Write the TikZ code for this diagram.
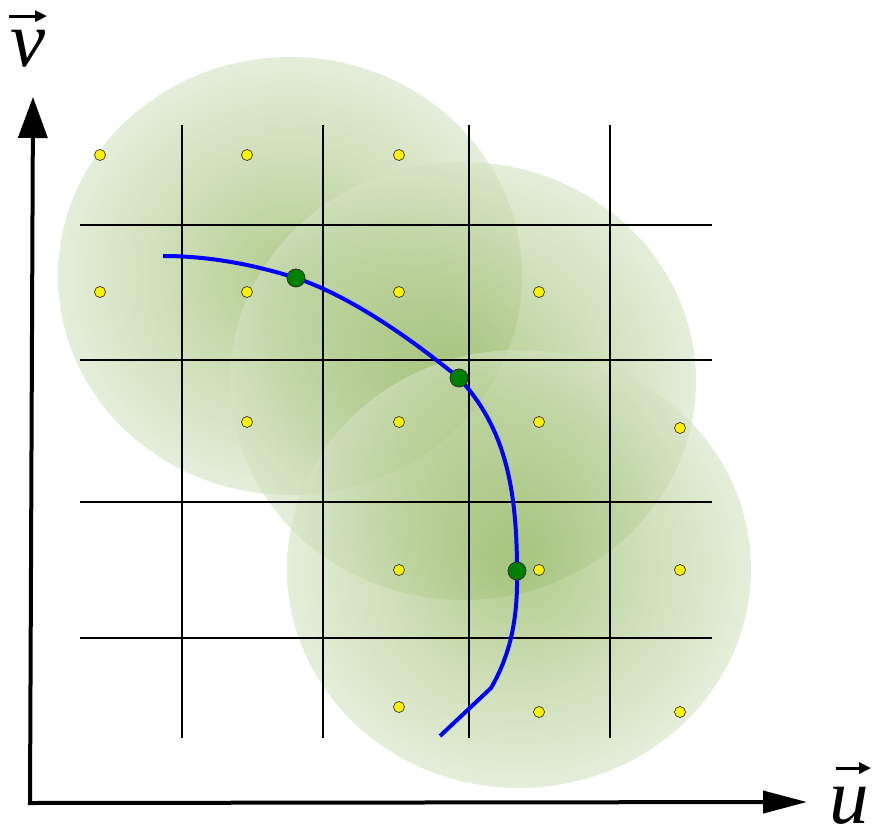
\documentclass[tikz,border=0pt]{standalone}
\usepackage{fontspec}
\setmainfont{Liberation Serif}
\usetikzlibrary{arrows.meta}

\definecolor{blobcenter}{RGB}{127,172,67}
\definecolor{blobedge}{RGB}{212,226,194}
\definecolor{dotgreen}{RGB}{0,128,0}
\pgfdeclareradialshading{blob}{\pgfpoint{0bp}{0bp}}{color(0bp)=(blobcenter); color(25bp)=(blobedge); color(50bp)=(blobedge)}

\begin{document}
\begin{tikzpicture}[
        x=0.02cm, y=-0.02cm,
        axis/.style={line width=0.08cm},
        gridline/.style={line width=0.6pt},
        blobfill/.style={shading=blob,opacity=0.6},
        curve/.style={draw=blue,line width=0.08cm},
        ydot/.style={circle,draw=black!80,fill=yellow,line width=0.4pt,inner sep=0pt,minimum size=0.22cm},
        gdot/.style={circle,draw=black!80,fill=dotgreen,line width=0.5pt,inner sep=0pt,minimum size=0.36cm},
        lab/.style={font=\fontsize{45}{45}\selectfont\itshape,inner sep=0pt},
        vecarr/.style={line width=0.06cm,-{Triangle[length=0.24cm,width=0.22cm]}}
    ]
    \useasboundingbox (0,0) rectangle (874,830);

    % search regions
    \shade[blobfill] (290,276) ellipse [x radius=232, y radius=219];
    \shade[blobfill] (463,381) ellipse [x radius=233, y radius=219];
    \shade[blobfill] (519,569) ellipse [x radius=232, y radius=219];

    % grid
    \foreach \gx in {182,323,469,610}
        \draw[gridline] (\gx,125) -- (\gx,738);
    \foreach \gy in {225,360,502,638}
        \draw[gridline] (80,\gy) -- (712,\gy);

    % axes
    \coordinate (origin) at (30,803);
    \coordinate (vtip) at (33,97);
    \coordinate (utip) at (807,802);
    \draw[axis,{Triangle[length=0.82cm,width=0.58cm]}-{Triangle[length=0.88cm,width=0.44cm]}]
        (vtip) -- (origin) -- (utip);

    \node[lab] (vlab) at (28,49) {v};
    \node[lab] (ulab) at (849,806) {u};
    \draw[vecarr] ([shift={(-19,-14)}]vlab.north) -- ([shift={(19,-14)}]vlab.north);
    \draw[vecarr] ([shift={(-13,-19)}]ulab.north) -- ([shift={(22,-19)}]ulab.north);

    % trajectory
    \coordinate (c0) at (163,256);
    \coordinate (p1) at (296,278);
    \coordinate (p2) at (459,378);
    \coordinate (p3) at (517,571);
    \coordinate (c4) at (491,688);
    \coordinate (c5) at (440,736);
    \draw[curve]
        (c0) .. controls (210,256) and (255,265) .. (p1)
             .. controls (350,296) and (410,338) .. (p2)
             .. controls (502,425) and (517,480) .. (p3)
             .. controls (518,620) and (510,655) .. (c4)
             -- (c5);

    % samples
    \foreach \sx/\sy [count=\i] in {100/155,247/155,399/155,
            100/292,247/292,399/292,539/292,
            247/422,399/422,539/422,680/428,
            399/570,539/570,680/570,
            399/707,539/712,680/712}
        \node[ydot] (s\i) at (\sx,\sy) {};

    \node[gdot] (g1) at (p1) {};
    \node[gdot] (g2) at (p2) {};
    \node[gdot] (g3) at (p3) {};
\end{tikzpicture}
\end{document}
